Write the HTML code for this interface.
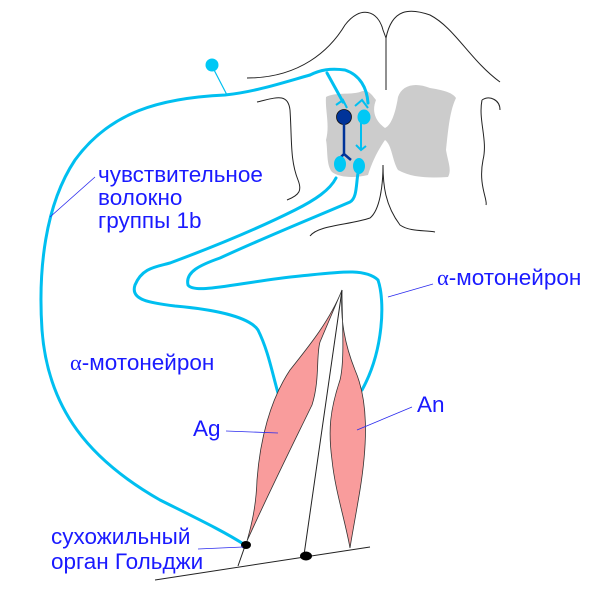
<!DOCTYPE html>
<html><head><meta charset="utf-8"><style>
html,body{margin:0;padding:0;background:#fff;}
svg{display:block;}
text{font-family:"Liberation Sans",sans-serif;font-size:22.5px;fill:#1a1aff;}
</style></head><body>
<svg width="600" height="594" viewBox="0 0 600 594" xmlns="http://www.w3.org/2000/svg">
<g fill="none" stroke="#222" stroke-width="1">
<path d="M247,78 C300,78 330,50 345,25 C360,5 378,10 383,30 L386,38"/>
<path d="M386,38 C392,8 410,8 430,15 C455,28 470,60 500,82"/>
<path d="M386,38 L386,90"/>
<path d="M257,102 C275,98 288,92 290,110 C292,140 290,160 298,180 C302,190 300,195 287,200"/>
<path d="M482,100 C490,95 500,100 500,110"/>
<path d="M482,100 C478,120 488,140 483,160 C478,185 488,200 486,205"/>
<path d="M310,236 C318,225 350,225 370,218 C380,210 383,185 383,165"/>
<path d="M383,165 C383,185 385,205 400,225 C410,232 425,230 435,232"/>
</g>
<path d="M326,97 C335,92 350,95 360,92 C368,88 372,95 376,100 C372,110 374,120 385,128 C392,125 396,110 398,97 C402,85 415,82 430,88 C442,90 452,92 456,98 C450,110 448,130 446,150 C448,162 452,170 448,177 C430,178 412,178 398,170 C392,160 392,145 385,140 C378,150 372,162 368,175 C355,178 340,178 332,172 C326,165 328,150 326,140 C330,125 325,110 326,97 Z" fill="#cccccc"/>
<g fill="none" stroke="#00bff0" stroke-width="3" stroke-linecap="round">
<path d="M310,75 C285,82 255,92 225,95 C160,98 110,112 75,160 C45,205 38,270 42,330 C48,410 90,460 160,500 C200,520 225,532 245,545"/>
<path d="M310,75 C320,70 330,68 345,70 C360,75 367,88 368,103"/>
<path d="M327,73 L343,102"/>
<path d="M336,178 C330,190 315,200 295,210 C255,230 205,250 170,263 C155,267 142,268 135,285 C130,300 150,303 175,306 C220,310 250,318 258,330 C268,350 272,372 278,393"/>
<path d="M358,173 C356,185 357,198 350,202 C320,215 270,235 220,258 C200,265 185,272 188,285 C195,295 240,282 300,276 C340,272 365,268 378,280 C385,300 384,350 362,390"/>
</g>
<g fill="none" stroke="#00bff0" stroke-width="2">
<path d="M336,105 L343,100 L347,108"/>
<path d="M355,106 L362,100 L368,108"/>
<path d="M361,120 L361,150 M356,145 L361,150 L366,146"/>
</g>
<line x1="212" y1="66" x2="227" y2="95" stroke="#00bff0" stroke-width="1.2"/>
<circle cx="212" cy="65" r="6.5" fill="#00c8f5"/>
<circle cx="344" cy="117" r="7.5" fill="#003399" stroke="#111" stroke-width="0.8"/>
<path d="M344,122 L344,155 M337,161 L344,154 L351,160" stroke="#003399" stroke-width="2.5" fill="none"/>
<ellipse cx="364" cy="117" rx="6.5" ry="7.5" fill="#00c8f5"/>
<ellipse cx="340" cy="164" rx="6" ry="8" fill="#00c8f5"/>
<ellipse cx="359" cy="166" rx="6" ry="8" fill="#00c8f5"/>
<path d="M342,290 C330,320 310,345 290,370 C270,400 260,440 257,480 C256,510 250,530 247,541 C270,490 295,440 312,405 C320,380 316,355 320,342 Z" fill="#f99c9c" stroke="#333" stroke-width="0.8"/>
<path d="M342,290 C340,320 345,345 355,370 C368,400 368,440 360,490 C355,520 352,535 350,548 C345,520 335,490 332,460 C328,430 330,410 340,380 C345,360 342,320 342,290 Z" fill="#f99c9c" stroke="#333" stroke-width="0.8"/>
<line x1="342" y1="290" x2="304" y2="555" stroke="#222" stroke-width="1"/>
<line x1="155" y1="580" x2="370" y2="547" stroke="#222" stroke-width="1"/>
<line x1="245" y1="546" x2="238" y2="566" stroke="#222" stroke-width="1"/>
<ellipse cx="246" cy="545" rx="5" ry="4" fill="#000"/>
<ellipse cx="306" cy="556" rx="6" ry="4.5" fill="#000"/>
<g stroke="#2a2aee" stroke-width="0.8">
<line x1="95" y1="177" x2="50" y2="217"/>
<line x1="388" y1="297" x2="433" y2="284"/>
<line x1="226" y1="431" x2="278" y2="433"/>
<line x1="412" y1="407" x2="357" y2="430"/>
<line x1="198" y1="549" x2="243" y2="547"/>
</g>
<text x="98" y="182">чувствительное</text>
<text x="98" y="205">волокно</text>
<text x="98" y="228">группы 1b</text>
<text x="70" y="370"><tspan font-family="Liberation Serif">α</tspan>-мотонейрон</text>
<text x="437" y="285"><tspan font-family="Liberation Serif">α</tspan>-мотонейрон</text>
<text x="193" y="436">Ag</text>
<text x="417" y="412">An</text>
<text x="51" y="544">сухожильный</text>
<text x="51" y="569">орган Гольджи</text>
</svg>
</body></html>
